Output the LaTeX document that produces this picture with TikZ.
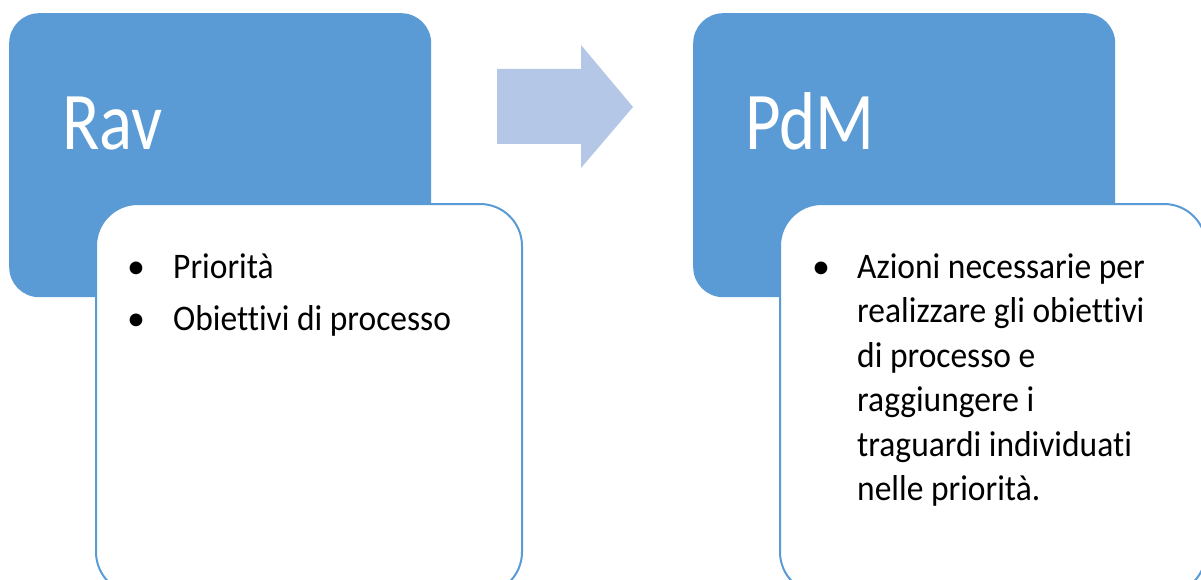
\documentclass[tikz,border=0pt]{standalone}
\usepackage{fontspec}
\setmainfont[Ligatures=CommonOff]{Carlito}
\definecolor{accent}{HTML}{5B9BD5}
\definecolor{arrowfill}{HTML}{B4C7E7}
\tikzset{
  bluebox/.style={fill=accent, draw=none, rounded corners=30pt, inner sep=0pt, anchor=north west},
  whitebox/.style={fill=white, draw=accent, line width=2pt, rounded corners=42pt, inner sep=0pt, anchor=north west},
  titletext/.style={anchor=base west, inner sep=0pt, text=white, font=\fontsize{82}{98}\selectfont},
  bullettext/.style={anchor=base west, inner sep=0pt, text=black, font=\fontsize{36}{44.5}\selectfont},
  bulletdot/.style={anchor=base west, inner sep=0pt, text=black, font=\fontsize{36}{44.5}\selectfont},
}
\newcommand{\narrowtitle}[1]{\scalebox{0.84}[1]{#1}}
\newcommand{\narrowtext}[1]{\scalebox{0.93}[1]{#1}}
\begin{document}
\begin{tikzpicture}[x=1pt,y=-1pt]
\useasboundingbox (0,0) rectangle (1201,580);
\clip (0,0) rectangle (1201,580);
\fill[white] (0,0) rectangle (1201,580);
% blue boxes
\node[bluebox, minimum width=422pt, minimum height=284pt] (rav) at (9,13) {};
\node[bluebox, minimum width=422pt, minimum height=284pt] (pdm) at (693,13) {};
% arrow
\fill[arrowfill] (497,69) -- (581,69) -- (581,45) -- (633,107) -- (581,168) -- (581,144) -- (497,144) -- cycle;
% white boxes
\node[whitebox, minimum width=426pt, minimum height=390pt] (ravlist) at (95,203) {};
\node[whitebox, minimum width=426pt, minimum height=390pt] (pdmlist) at (779,203) {};
% titles
\node[titletext] (ravt) at (62,150) {\narrowtitle{Rav}};
\node[titletext] (pdmt) at (745,150) {\narrowtitle{PdM}};
% left bullets
\node[bulletdot] (b1) at (127,278) {•};
\node[bullettext] (t1) at (173,278) {\narrowtext{Priorità}};
\node[bulletdot] (b2) at (127,330) {•};
\node[bullettext] (t2) at (173,330) {\narrowtext{Obiettivi di processo}};
% right bullet
\node[bulletdot] (b3) at (812,278) {•};
\node[bullettext] (t3) at (857,500.5) {\narrowtext{\begin{tabular}[b]{@{}l@{}}Azioni necessarie per\\realizzare gli obiettivi\\di processo e\\raggiungere i\\traguardi individuati\\nelle priorità.\end{tabular}}};
\end{tikzpicture}
\end{document}
